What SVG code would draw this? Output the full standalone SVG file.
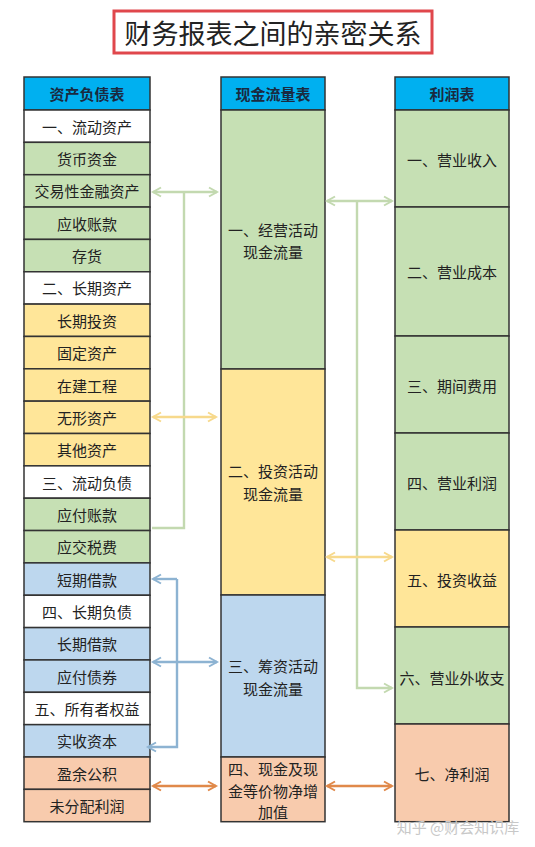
<svg xmlns="http://www.w3.org/2000/svg" width="535" height="847" viewBox="0 0 535 847">
<style>
text{font-family:"Noto Sans CJK SC","Liberation Sans",sans-serif;fill:#222;text-anchor:middle;dominant-baseline:central;font-size:15px}
.hd{font-weight:bold;font-size:15px;fill:#1a2a40}
.c{stroke:#333;stroke-width:1.5}
.h{fill:#00b0f0}
.w{fill:#ffffff}
.g{fill:#c6e0b4}
.y{fill:#ffe699}
.b{fill:#bdd7ee}
.o{fill:#f8cbad}
.lg{stroke:#c3d9b0;stroke-width:2.4;fill:none}
.ly{stroke:#f7d98c;stroke-width:2.4;fill:none}
.lb{stroke:#8db3d2;stroke-width:2.4;fill:none}
.lo{stroke:#e0894a;stroke-width:2.4;fill:none}
</style>
<defs>
<marker id="ag" viewBox="0 0 10 10" refX="9" refY="5" markerWidth="10" markerHeight="10" orient="auto-start-reverse" markerUnits="userSpaceOnUse" style="overflow:visible"><path d="M1,0.5 L9,5 L1,9.5" fill="none" stroke="#c3d9b0" stroke-width="2"/></marker>
<marker id="ay" viewBox="0 0 10 10" refX="9" refY="5" markerWidth="10" markerHeight="10" orient="auto-start-reverse" markerUnits="userSpaceOnUse" style="overflow:visible"><path d="M1,0.5 L9,5 L1,9.5" fill="none" stroke="#f7d98c" stroke-width="2"/></marker>
<marker id="ab" viewBox="0 0 10 10" refX="9" refY="5" markerWidth="10" markerHeight="10" orient="auto-start-reverse" markerUnits="userSpaceOnUse" style="overflow:visible"><path d="M1,0.5 L9,5 L1,9.5" fill="none" stroke="#8db3d2" stroke-width="2"/></marker>
<marker id="ao" viewBox="0 0 10 10" refX="9" refY="5" markerWidth="10" markerHeight="10" orient="auto-start-reverse" markerUnits="userSpaceOnUse" style="overflow:visible"><path d="M1,0.5 L9,5 L1,9.5" fill="none" stroke="#e0894a" stroke-width="2"/></marker>
</defs>
<rect width="535" height="847" fill="#ffffff"/>
<g id="title">
<rect x="114" y="11" width="318" height="42" fill="#fff" stroke="#e0474c" stroke-width="3"/>
<text x="273" y="32" style="font-size:27px">财务报表之间的亲密关系</text>
</g>
<g id="balance-sheet">
<rect class="c h" x="24" y="77" width="126" height="33"/><text class="hd" x="87" y="93.5">资产负债表</text>
<rect class="c w" x="24" y="110" width="126" height="32.35"/><text x="87" y="126.2">一、流动资产</text>
<rect class="c g" x="24" y="142.35" width="126" height="32.35"/><text x="87" y="158.5">货币资金</text>
<rect class="c g" x="24" y="174.7" width="126" height="32.35"/><text x="87" y="190.9">交易性金融资产</text>
<rect class="c g" x="24" y="207.05" width="126" height="32.35"/><text x="87" y="223.2">应收账款</text>
<rect class="c g" x="24" y="239.4" width="126" height="32.35"/><text x="87" y="255.6">存货</text>
<rect class="c w" x="24" y="271.75" width="126" height="32.35"/><text x="87" y="287.9">二、长期资产</text>
<rect class="c y" x="24" y="304.1" width="126" height="32.35"/><text x="87" y="320.3">长期投资</text>
<rect class="c y" x="24" y="336.45" width="126" height="32.35"/><text x="87" y="352.6">固定资产</text>
<rect class="c y" x="24" y="368.8" width="126" height="32.35"/><text x="87" y="385">在建工程</text>
<rect class="c y" x="24" y="401.15" width="126" height="32.35"/><text x="87" y="417.3">无形资产</text>
<rect class="c y" x="24" y="433.5" width="126" height="32.35"/><text x="87" y="449.7">其他资产</text>
<rect class="c w" x="24" y="465.85" width="126" height="32.35"/><text x="87" y="482">三、流动负债</text>
<rect class="c g" x="24" y="498.2" width="126" height="32.35"/><text x="87" y="514.4">应付账款</text>
<rect class="c g" x="24" y="530.55" width="126" height="32.35"/><text x="87" y="546.7">应交税费</text>
<rect class="c b" x="24" y="562.9" width="126" height="32.35"/><text x="87" y="579.1">短期借款</text>
<rect class="c w" x="24" y="595.25" width="126" height="32.35"/><text x="87" y="611.4">四、长期负债</text>
<rect class="c b" x="24" y="627.6" width="126" height="32.35"/><text x="87" y="643.8">长期借款</text>
<rect class="c b" x="24" y="659.95" width="126" height="32.35"/><text x="87" y="676.1">应付债券</text>
<rect class="c w" x="24" y="692.3" width="126" height="32.35"/><text x="87" y="708.5">五、所有者权益</text>
<rect class="c b" x="24" y="724.65" width="126" height="32.35"/><text x="87" y="740.8">实收资本</text>
<rect class="c o" x="24" y="757" width="126" height="32.35"/><text x="87" y="773.2">盈余公积</text>
<rect class="c o" x="24" y="789.35" width="126" height="32.35"/><text x="87" y="805.5">未分配利润</text>
</g>
<g id="cash-flow">
<rect class="c h" x="221" y="77" width="104" height="33"/><text class="hd" x="273" y="93.5">现金流量表</text>
<rect class="c g" x="221" y="110" width="104" height="259"/><text x="273" y="229">一、经营活动</text><text x="273" y="251">现金流量</text>
<rect class="c y" x="221" y="369" width="104" height="226"/><text x="273" y="470">二、投资活动</text><text x="273" y="493">现金流量</text>
<rect class="c b" x="221" y="595" width="104" height="162"/><text x="273" y="665">三、筹资活动</text><text x="273" y="688">现金流量</text>
<rect class="c o" x="221" y="757" width="104" height="64.7"/><text x="273" y="768">四、现金及现</text><text x="273" y="790">金等价物净增</text><text x="273" y="811">加值</text>
</g>
<g id="income-statement">
<rect class="c h" x="395" y="77" width="114" height="33"/><text class="hd" x="452" y="93.5">利润表</text>
<rect class="c g" x="395" y="110" width="114" height="97"/><text x="452" y="159">一、营业收入</text>
<rect class="c g" x="395" y="207" width="114" height="129"/><text x="452" y="271">二、营业成本</text>
<rect class="c g" x="395" y="336" width="114" height="97"/><text x="452" y="385">三、期间费用</text>
<rect class="c g" x="395" y="433" width="114" height="97"/><text x="452" y="482">四、营业利润</text>
<rect class="c y" x="395" y="530" width="114" height="97"/><text x="452" y="579">五、投资收益</text>
<rect class="c g" x="395" y="627" width="114" height="97"/><text x="452" y="677">六、营业外收支</text>
<rect class="c o" x="395" y="724" width="114" height="97.7"/><text x="452" y="773">七、净利润</text>
</g>
<g id="connectors">
<path class="lg" d="M153,192 H217" marker-start="url(#ag)" marker-end="url(#ag)"/>
<path class="lg" d="M184,192 V528 H152"/>
<path class="ly" d="M153,417 H216" marker-start="url(#ay)" marker-end="url(#ay)"/>
<path class="lb" d="M177,579 H153" marker-end="url(#ab)"/>
<path class="lb" d="M177,579 V747 H148" marker-end="url(#ab)"/>
<path class="lb" d="M153,662 H217" marker-start="url(#ab)" marker-end="url(#ab)"/>
<path class="lo" d="M153,786 H216" marker-start="url(#ao)" marker-end="url(#ao)"/>
<path class="lg" d="M327,201 H392" marker-start="url(#ag)" marker-end="url(#ag)"/>
<path class="lg" d="M357,201 V688 H392" marker-end="url(#ag)"/>
<path class="ly" d="M327,557 H392" marker-start="url(#ay)" marker-end="url(#ay)"/>
<path class="lo" d="M327,786 H392" marker-start="url(#ao)" marker-end="url(#ao)"/>
</g>
<text x="458" y="826" style="font-size:15px;fill:#c8c8c8">知乎 @财会知识库</text>
</svg>
